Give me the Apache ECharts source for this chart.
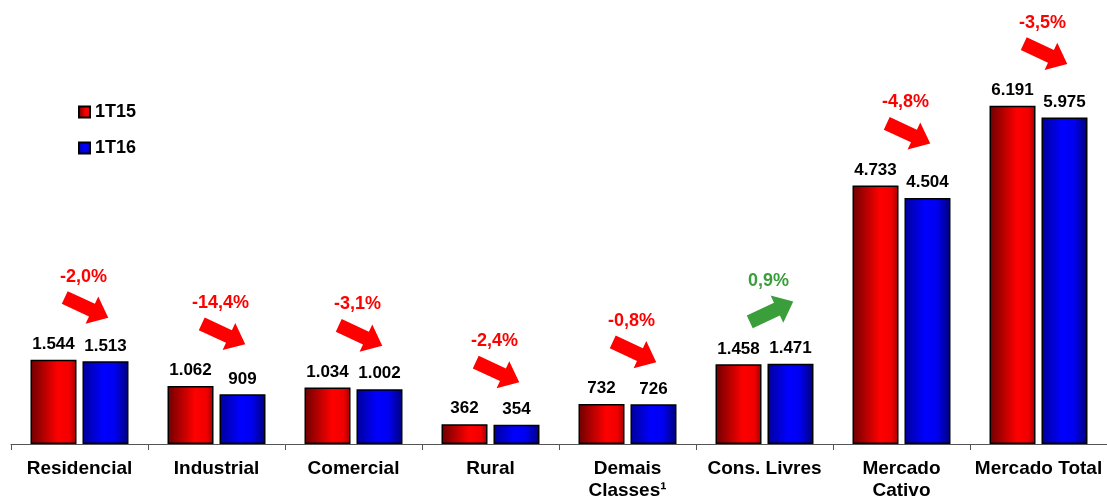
<!DOCTYPE html>
<html>
<head>
<meta charset="utf-8">
<title>Mercado</title>
<script src="https://cdn.jsdelivr.net/npm/echarts@6/dist/echarts.min.js"></script>
<style>
    html, body { margin: 0; padding: 0; background: #fff; }
    .chart { width: 1107px; height: 498px; }
</style>
</head>
<body>
<div class="chart"></div>
<script>
// 数据
var categories = ['Residencial', 'Industrial', 'Comercial', 'Rural', 'Demais\nClasses¹', 'Cons. Livres', 'Mercado\nCativo', 'Mercado Total'];
var seriesNames = ['1T15', '1T16'];
var values1T15 = [1544, 1062, 1034, 362, 732, 1458, 4733, 6191];
var values1T16 = [1513, 909, 1002, 354, 726, 1471, 4504, 5975];
var variation = [-2.0, -14.4, -3.1, -2.4, -0.8, 0.9, -4.8, -3.5];

(function () {
    var myChart = echarts.init(document.querySelector('.chart'));
    var font = 'Liberation Sans, Arial, sans-serif';
    var redArrow = '#ff0000';
    var greenArrow = '#3a9e3a';
    // 块状箭头
    var arrowPath = 'path://M0,8 L30,8 L30,0 L48,15 L30,30 L30,22 L0,22 Z';

    // 千位分隔符用点
    function fmt(v) {
        return String(v).replace(/\B(?=(\d{3})+(?!\d))/g, '.');
    }
    function pct(v) {
        return v.toFixed(1).replace('.', ',') + '%';
    }

    var redGrad = new echarts.graphic.LinearGradient(0, 0, 1, 0, [
        { offset: 0, color: '#6e0000' },
        { offset: 0.6, color: '#ff0000' },
        { offset: 0.85, color: '#f00000' },
        { offset: 1, color: '#a00000' }
    ]);
    var blueGrad = new echarts.graphic.LinearGradient(0, 0, 1, 0, [
        { offset: 0, color: '#00009a' },
        { offset: 0.45, color: '#0000ff' },
        { offset: 0.7, color: '#0000f0' },
        { offset: 1, color: '#00007a' }
    ]);

    // 箭头放在两根柱子中较高那根的上方
    var arrowData = categories.map(function (c, i) {
        var up = variation[i] > 0;
        return {
            value: [i, Math.max(values1T15[i], values1T16[i])],
            symbolRotate: up ? 25 : -25,
            itemStyle: { color: up ? greenArrow : redArrow }
        };
    });
    var labelData = categories.map(function (c, i) {
        var up = variation[i] > 0;
        return {
            value: [i, Math.max(values1T15[i], values1T16[i])],
            name: pct(variation[i]),
            label: { color: up ? greenArrow : redArrow }
        };
    });

    var barLabel = {
        show: true,
        position: 'top',
        distance: 7,
        color: '#000',
        fontFamily: font,
        fontWeight: 'bold',
        fontSize: 17,
        formatter: function (p) { return fmt(p.value); }
    };

    var option = {
        animation: false,
        legend: {
            orient: 'vertical',
            left: 73,
            top: 97,
            icon: 'rect',
            itemWidth: 11,
            itemHeight: 11,
            itemGap: 16,
            data: seriesNames,
            textStyle: {
                fontFamily: font,
                fontWeight: 'bold',
                fontSize: 18,
                lineHeight: 20,
                color: '#000'
            }
        },
        grid: {
            left: 11,
            right: 0,
            top: 7,
            bottom: 54,
            containLabel: false,
            outerBoundsMode: 'none'
        },
        xAxis: {
            type: 'category',
            data: categories,
            axisLine: { lineStyle: { color: '#555', width: 1 } },
            axisTick: { show: true, length: 6, lineStyle: { color: '#555' } },
            axisLabel: {
                interval: 0,
                margin: 14,
                color: '#000',
                fontFamily: font,
                fontWeight: 'bold',
                fontSize: 19,
                lineHeight: 22
            }
        },
        yAxis: {
            type: 'value',
            min: 0,
            max: 8000,
            show: false,
            splitLine: { show: false }
        },
        series: [{
            name: seriesNames[0],
            type: 'bar',
            barWidth: 46,
            barGap: '13%',
            data: values1T15,
            itemStyle: { color: redGrad, borderColor: '#000', borderWidth: 1.5 },
            label: barLabel
        }, {
            name: seriesNames[1],
            type: 'bar',
            barWidth: 46,
            data: values1T16,
            itemStyle: { color: blueGrad, borderColor: '#000', borderWidth: 1.5 },
            label: barLabel
        }, {
            // 变化箭头
            name: 'seta',
            type: 'scatter',
            symbol: arrowPath,
            symbolSize: [48, 30],
            symbolOffset: [7, -52],
            silent: true,
            data: arrowData,
            itemStyle: { opacity: 1 },
            z: 5
        }, {
            // 变化百分比
            name: 'var',
            type: 'scatter',
            symbolSize: 1,
            itemStyle: { color: 'rgba(0,0,0,0)', opacity: 1 },
            silent: true,
            data: labelData,
            label: {
                show: true,
                position: 'inside',
                offset: [4, -83],
                fontFamily: font,
                fontWeight: 'bold',
                fontSize: 18,
                opacity: 1,
                formatter: function (p) { return p.name; }
            },
            z: 6
        }]
    };
    myChart.setOption(option);
    window.addEventListener('resize', function () {
        myChart.resize();
    });
})();
</script>
</body>
</html>
